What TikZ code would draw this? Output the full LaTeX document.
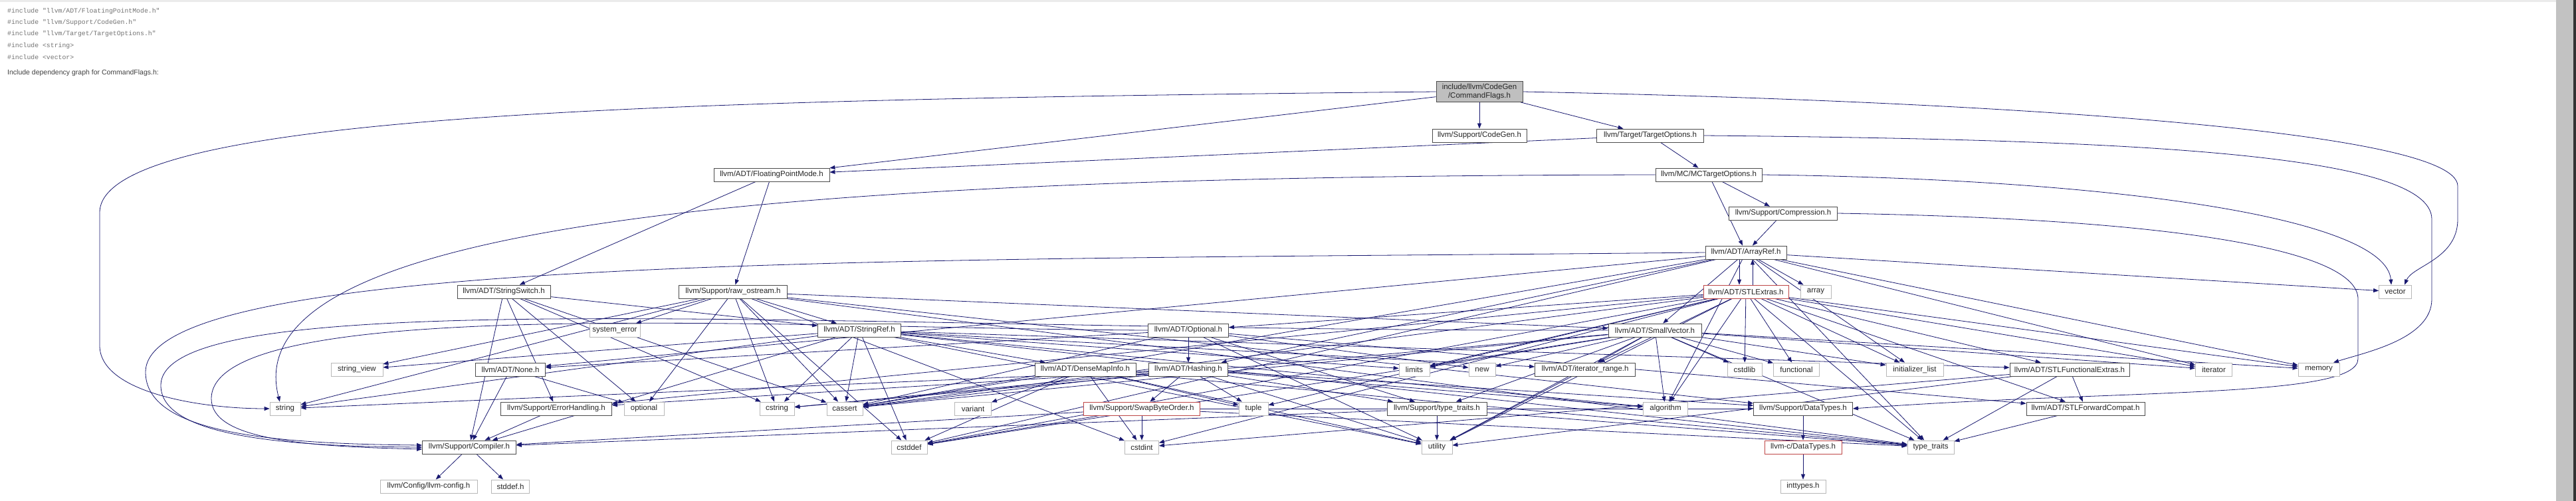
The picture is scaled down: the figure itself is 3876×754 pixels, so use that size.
\documentclass[tikz,border=0pt]{standalone}
\usepackage{fontspec}
\setmainfont{Liberation Sans}
\newfontfamily\codefont{Liberation Mono}
\usetikzlibrary{arrows.meta,backgrounds}
\definecolor{edgec}{RGB}{25,25,112}
\definecolor{redb}{RGB}{190,70,70}
\definecolor{cfgray}{RGB}{191,191,191}
\begin{document}
\begin{tikzpicture}[x=1pt,y=-1pt,
  box/.style={draw=black!70, fill=white, line width=0.8pt, font=\fontsize{11.5}{13}\selectfont, text=black!85, minimum height=20pt, inner xsep=3pt, inner ysep=0pt},
  sbox/.style={box, draw=black!28},
  rbox/.style={box, draw=redb},
  e/.style={draw=edgec, line width=0.8pt, -{Triangle[length=8pt,width=6pt]}},
  inc/.style={anchor=base west, font=\codefont\fontsize{9.8}{10}\selectfont, text=black!55, inner sep=0pt},
]
\useasboundingbox (0,0) rectangle (3876,754);

% header text
\node[inc] (inc1) at (11,19.5) {\#include "llvm/ADT/FloatingPointMode.h"};
\node[inc] (inc2) at (11,36.5) {\#include "llvm/Support/CodeGen.h"};
\node[inc] (inc3) at (11,53.5) {\#include "llvm/Target/TargetOptions.h"};
\node[inc] (inc4) at (11,71.5) {\#include <string>};
\node[inc] (inc5) at (11,89.5) {\#include <vector>};
\node[anchor=base west, font=\fontsize{10.5}{12}\selectfont, text=black!75, inner sep=0pt] (cap) at (11,113) {Include dependency graph for CommandFlags.h:};

% nodes
\node[box, fill=cfgray, minimum width=130pt, minimum height=31pt, align=center, font=\fontsize{11.5}{12.5}\selectfont] (cf) at (2226,138) {include/llvm/CodeGen\\/CommandFlags.h};
\node[box, minimum width=142pt] (codegen) at (2226,204) {llvm/Support/CodeGen.h};
\node[box, minimum width=161pt] (tgtopt) at (2483,204) {llvm/Target/TargetOptions.h};
\node[box, minimum width=174pt] (fpm) at (1161,263) {llvm/ADT/FloatingPointMode.h};
\node[box, minimum width=160pt] (mcto) at (2571,263) {llvm/MC/MCTargetOptions.h};
\node[box, minimum width=163pt] (compr) at (2683,321) {llvm/Support/Compression.h};
\node[box, minimum width=122pt] (arrayref) at (2627,380) {llvm/ADT/ArrayRef.h};
\node[box, minimum width=140pt] (strswitch) at (758,439) {llvm/ADT/StringSwitch.h};
\node[box, minimum width=163pt] (rawos) at (1103,439) {llvm/Support/raw\_ostream.h};
\node[rbox, minimum width=128pt] (stlextras) at (2627,439) {llvm/ADT/STLExtras.h};
\node[sbox, minimum width=46pt] (array) at (2732,439) {array};
\node[sbox, minimum width=49pt] (vector) at (3604,439) {vector};
\node[sbox, minimum width=76pt] (syserr) at (925,497) {system\_error};
\node[box, minimum width=125pt] (strref) at (1293,497) {llvm/ADT/StringRef.h};
\node[box, minimum width=121pt] (optionalh) at (1788,497) {llvm/ADT/Optional.h};
\node[box, minimum width=140pt] (smallvec) at (2490,497) {llvm/ADT/SmallVector.h};
\node[sbox, minimum width=78pt] (strview) at (537,556) {string\_view};
\node[box, minimum width=105pt] (none) at (768,556) {llvm/ADT/None.h};
\node[box, minimum width=152pt] (densemap) at (1633,556) {llvm/ADT/DenseMapInfo.h};
\node[box, minimum width=119pt] (hashing) at (1788,556) {llvm/ADT/Hashing.h};
\node[sbox, minimum width=46pt] (limits) at (2128,556) {limits};
\node[sbox, minimum width=40pt] (new) at (2230,556) {new};
\node[box, minimum width=151pt] (itrange) at (2385,556) {llvm/ADT/iterator\_range.h};
\node[sbox, minimum width=52pt] (cstdlib) at (2625,556) {cstdlib};
\node[sbox, minimum width=69pt] (functional) at (2703,556) {functional};
\node[sbox, minimum width=86pt] (initlist) at (2881,556) {initializer\_list};
\node[box, minimum width=180pt] (stlfunc) at (3114,556) {llvm/ADT/STLFunctionalExtras.h};
\node[sbox, minimum width=55pt] (iterator) at (3331,556) {iterator};
\node[sbox, minimum width=62pt] (memory) at (3489,556) {memory};
\node[sbox, minimum width=46pt] (string) at (429,615) {string};
\node[box, minimum width=167pt] (errh) at (837,615) {llvm/Support/ErrorHandling.h};
\node[sbox, minimum width=60pt] (optional) at (969,615) {optional};
\node[sbox, minimum width=52pt] (cstring) at (1169,615) {cstring};
\node[sbox, minimum width=54pt] (cassert) at (1271,615) {cassert};
\node[sbox, minimum width=55pt] (variant) at (1464,615) {variant};
\node[rbox, minimum width=175pt] (swapbo) at (1718,615) {llvm/Support/SwapByteOrder.h};
\node[sbox, minimum width=44pt] (tuple) at (1886,615) {tuple};
\node[box, minimum width=150pt] (typetraitsh) at (2162,615) {llvm/Support/type\_traits.h};
\node[sbox, minimum width=67pt] (algorithm) at (2506,615) {algorithm};
\node[box, minimum width=149pt] (datatypes) at (2713,615) {llvm/Support/DataTypes.h};
\node[box, minimum width=178pt] (stlfwd) at (3138,615) {llvm/ADT/STLForwardCompat.h};
\node[box, minimum width=141pt] (compiler) at (706,673) {llvm/Support/Compiler.h};
\node[sbox, minimum width=54pt] (cstddef) at (1368,673) {cstddef};
\node[sbox, minimum width=51pt] (cstdint) at (1718,673) {cstdint};
\node[sbox, minimum width=46pt] (utility) at (2162,673) {utility};
\node[rbox, minimum width=116pt] (cdatatypes) at (2713,673) {llvm-c/DataTypes.h};
\node[sbox, minimum width=70pt] (typetraits) at (2905,673) {type\_traits};
\node[sbox, minimum width=146pt] (llvmconfig) at (645,732) {llvm/Config/llvm-config.h};
\node[sbox, minimum width=57pt] (stddefh) at (768,732) {stddef.h};
\node[sbox, minimum width=68pt] (inttypes) at (2713,732) {inttypes.h};

\begin{scope}[on background layer]
\fill[white] (0,0) rectangle (3876,754);
\fill[black!8] (0,0) rectangle (3846,3);
\fill[black!24] (3846,0) rectangle (3872,754);
\fill[black!80] (3872,0) rectangle (3876,754);
% CommandFlags.h
\draw[e] (cf) -- (codegen);
\draw[e] (cf) -- (tgtopt);
\draw[e] (cf) -- (fpm);
\draw[e] (cf.west) .. controls (1000,150) and (150,170) .. (150,320) -- (150,520) .. controls (150,590) and (300,615) .. (string.west);
\draw[e] (cf.east) .. controls (2900,150) and (3698,190) .. (3698,280) -- (3698,330) .. controls (3698,390) and (3630,400) .. ([xshift=14pt]vector.north);
% TargetOptions.h
\draw[e] (tgtopt) -- (fpm);
\draw[e] (tgtopt) -- (mcto);
\draw[e] (tgtopt.east) .. controls (3200,210) and (3659,230) .. (3659,330) -- (3659,450) .. controls (3659,510) and (3560,530) .. ([xshift=22pt]memory.north);
% MCTargetOptions.h
\draw[e] (mcto) -- (arrayref);
\draw[e] (mcto) -- (compr);
\draw[e] (mcto.west) .. controls (1200,265) and (350,330) .. ([xshift=-8pt]string.north);
\draw[e] (mcto.east) .. controls (3200,270) and (3590,330) .. ([xshift=-6pt]vector.north);
% Compression.h
\draw[e] (compr) -- (arrayref);
\draw[e] (compr.east) .. controls (3300,330) and (3548,380) .. (3548,450) -- (3548,540) .. controls (3548,600) and (3200,585) .. (datatypes.east);
% FloatingPointMode.h
\draw[e] (fpm) -- (strswitch);
\draw[e] (fpm) -- (rawos);
% ArrayRef.h
\foreach \t in {hashing,none,smallvec,algorithm,array,cassert,cstddef,initlist,iterator,memory,typetraits,vector}
  \draw[e] (arrayref) -- (\t);
\draw[e] ([xshift=-10pt]arrayref.south) -- ([xshift=-10pt]stlextras.north);
\draw[e] ([xshift=10pt]stlextras.north) -- ([xshift=10pt]arrayref.south);
\draw[e] (arrayref.west) .. controls (1400,392) and (219,380) .. (219,560) .. controls (219,650) and (400,668) .. ([yshift=3pt]compiler.west);
% STLExtras.h
\foreach \t in {optionalh,stlfwd,stlfunc,itrange,errh,algorithm,cassert,cstddef,cstdint,cstdlib,functional,initlist,iterator,limits,memory,tuple,typetraits,utility}
  \draw[e] (stlextras) -- (\t);
% StringSwitch.h
\foreach \t in {strref,compiler,errh,cassert,cstring,optional}
  \draw[e] (strswitch) -- (\t);
% raw_ostream.h
\foreach \t in {smallvec,strref,datatypes,syserr,optional,cassert,cstddef,cstdint,cstring,string,strview,typetraits}
  \draw[e] (rawos) -- (\t);
% StringRef.h
\foreach \t in {densemap,stlfunc,itrange,compiler,algorithm,cassert,cstddef,cstring,limits,string,strview,typetraits,utility}
  \draw[e] (strref) -- (\t);
% Optional.h
\foreach \t in {hashing,none,stlfwd,typetraitsh,cassert,new,utility}
  \draw[e] (optionalh) -- (\t);
\draw[e] (optionalh.west) .. controls (1200,495) and (318,440) .. (318,600) .. controls (318,660) and (450,672) .. ([yshift=-3pt]compiler.west);
% SmallVector.h
\foreach \t in {typetraitsh,itrange,algorithm,cassert,cstddef,cstdlib,cstring,functional,initlist,iterator,limits,memory,new,typetraits,utility}
  \draw[e] (smallvec) -- (\t);
\draw[e] (smallvec.west) .. controls (1300,500) and (242,420) .. (242,580) .. controls (242,655) and (420,672) .. (compiler.west);
% None.h
\draw[e] (none) -- (compiler);
\draw[e] (none) -- (optional);
% DenseMapInfo.h
\foreach \t in {cassert,cstddef,cstdint,tuple,typetraits,utility,variant}
  \draw[e] (densemap) -- (\t);
% Hashing.h
\foreach \t in {errh,swapbo,typetraitsh,datatypes,algorithm,cassert,cstring,string,tuple,utility}
  \draw[e] (hashing) -- (\t);
% others
\draw[e] (itrange) -- (utility);
\foreach \t in {stlfwd,cstdint,typetraits,utility}
  \draw[e] (stlfunc) -- (\t);
\draw[e] (stlfwd) -- (typetraits);
\foreach \t in {compiler,datatypes,cstddef,cstdint,typetraits}
  \draw[e] (swapbo) -- (\t);
\foreach \t in {compiler,typetraits,utility}
  \draw[e] (typetraitsh) -- (\t);
\draw[e] (errh) -- (compiler);
\draw[e] (datatypes) -- (cdatatypes);
\draw[e] (cdatatypes) -- (inttypes);
\draw[e] (compiler) -- (llvmconfig);
\draw[e] (compiler) -- (stddefh);
\end{scope}
\end{tikzpicture}
\end{document}
